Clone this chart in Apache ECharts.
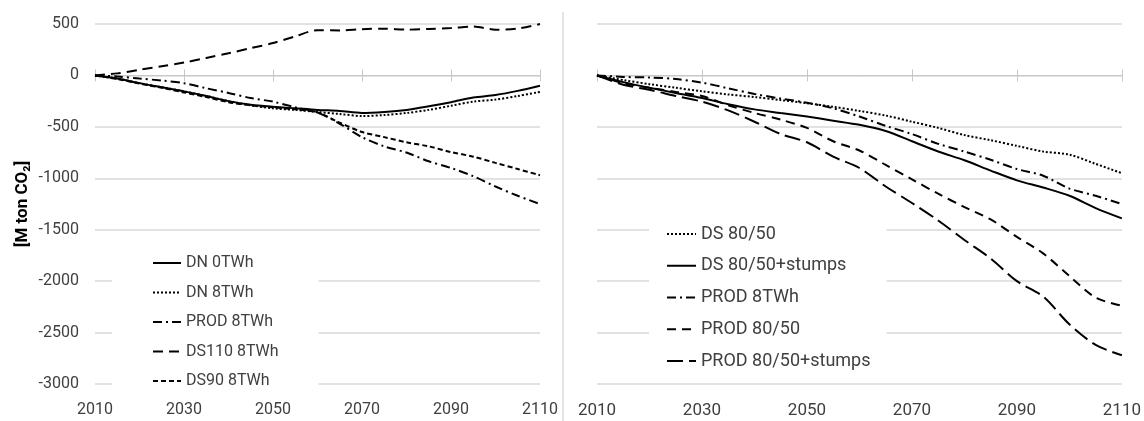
<!DOCTYPE html>
<html>
<head>
<meta charset="utf-8">
<script src="https://cdn.jsdelivr.net/npm/echarts@6/dist/echarts.min.js"></script>
<style>
html,body{margin:0;padding:0;background:#fff;}
#c{width:1144px;height:421px;}
</style>
</head>
<body>
<div id="c"></div>
<script>
// ---- data ----
const years = [2010,2015,2020,2025,2030,2035,2040,2045,2050,2055,2060,2065,2070,2075,2080,2085,2090,2095,2100,2105,2110];
const xTicks = [2010,2030,2050,2070,2090,2110];
const yTicks = [500,0,-500,-1000,-1500,-2000,-2500,-3000];

// left panel
const dn0 = [0,-30,-75,-115,-155,-200,-250,-285,-305,-320,-335,-345,-365,-355,-335,-300,-260,-215,-190,-150,-100];
const dn8 = [0,-30,-75,-115,-155,-200,-250,-290,-320,-335,-355,-375,-395,-385,-365,-335,-295,-255,-235,-200,-160];
const prod8L = [0,-10,-30,-50,-75,-125,-170,-220,-255,-310,-360,-470,-600,-690,-750,-835,-900,-980,-1080,-1170,-1250];
const ds110 = [0,20,55,90,125,170,215,265,315,380,440,438,450,455,445,452,460,475,445,455,500];
const ds90 = [0,-35,-80,-120,-165,-210,-260,-290,-310,-330,-360,-460,-550,-600,-650,-690,-745,-790,-850,-910,-970];

// right panel
const ds8050 = [0,-45,-85,-120,-155,-185,-210,-240,-270,-305,-345,-390,-450,-510,-580,-630,-685,-740,-770,-860,-950];
const ds8050s = [0,-65,-120,-170,-220,-280,-330,-365,-400,-440,-480,-540,-640,-740,-825,-925,-1020,-1090,-1170,-1290,-1390];
const prod8R = [0,-15,-20,-35,-70,-125,-180,-225,-265,-320,-400,-490,-570,-665,-740,-820,-910,-975,-1100,-1170,-1250];
const prod8050 = [0,-75,-120,-160,-200,-290,-365,-430,-510,-640,-730,-870,-1010,-1150,-1280,-1400,-1570,-1730,-1950,-2160,-2240];
const prod8050s = [0,-90,-140,-200,-255,-340,-450,-570,-650,-790,-900,-1080,-1240,-1410,-1600,-1780,-2000,-2150,-2420,-2620,-2720];

const FONT = 'Roboto, "Noto Sans", sans-serif';
const TXT = '#404040';
const GRID = '#d9d9d9';

function pairs(vals){ return years.map((y,i)=>[y, vals[i]]); }
function line(name, vals, xi, yi, type){
  return {
    name, type:'line', xAxisIndex:xi, yAxisIndex:yi, data:pairs(vals),
    symbol:'none', smooth:0.3, animation:false,
    lineStyle:{color:'#000', width:2, type:type, cap:'butt'},
    itemStyle:{color:'#000'}
  };
}
const DOT = 'dotted';
const DASHDOT = [9,4,2,4];
const DASH_L = [10,6];
const DASH_S = [5,3];
const DASH_M = [9,6];
const DASH_XL = [16,6];

function plain(v){ return String(v); }

function labelAxis(grid, fs){
  return {type:'value', gridIndex:grid, min:2010, max:2110, interval:20,
    axisLine:{show:false, onZero:false}, axisTick:{show:false}, splitLine:{show:false},
    axisLabel:{color:TXT, fontFamily:FONT, fontSize:fs, margin:18, formatter:plain}};
}
function zeroAxis(grid, yIdx, inside){
  return {type:'value', gridIndex:grid, min:2010, max:2110, interval:20,
    axisLine:{show:!inside, onZero:true, onZeroAxisIndex:yIdx, lineStyle:{color:'#c8c8c8', width:1}},
    axisTick:{show:true, inside:inside, length:6, lineStyle:{color:'#c8c8c8'}},
    axisLabel:{show:false}, splitLine:{show:false}};
}
function yAx(grid, showLabels){
  return {type:'value', gridIndex:grid, min:-3000, max:500, interval:500,
    axisLine:{show:false}, axisTick:{show:false},
    splitLine:{lineStyle:{color:GRID, width:1.5}},
    axisLabel:{show:showLabels, color:TXT, fontFamily:FONT, fontSize:16, margin:16, formatter:plain}};
}

const legendItemStyle = {color:'rgba(0,0,0,0)', borderColor:'rgba(0,0,0,0)', borderWidth:0, opacity:0};

const option = {
  backgroundColor:'#fff',
  animation:false,
  grid:[
    {left:95, top:24, width:445, height:360},
    {left:597, top:24, width:525, height:360}
  ],
  xAxis:[
    labelAxis(0,16), zeroAxis(0,0,false), zeroAxis(0,0,true),
    labelAxis(1,17), zeroAxis(1,1,false), zeroAxis(1,1,true)
  ],
  yAxis:[
    Object.assign(yAx(0,true), {name:'[M ton CO₂]', nameLocation:'middle', nameGap:64,
      nameTextStyle:{color:'#000', fontFamily:FONT, fontSize:17, fontWeight:'bold'}}),
    yAx(1,false)
  ],
  legend:[
    {orient:'vertical', left:112, top:245, padding:[10,40,4,40], backgroundColor:'#fff',
     itemWidth:28, itemHeight:14, itemGap:13.5, z:10, itemStyle:legendItemStyle,
     textStyle:{color:TXT, fontFamily:FONT, fontSize:16},
     data:['DN 0TWh','DN 8TWh','PROD 8TWh','DS110 8TWh','DS90 8TWh']},
    {orient:'vertical', left:649, top:215, padding:[10,16,10,17], backgroundColor:'#fff',
     itemWidth:29, itemHeight:14, itemGap:13.75, z:10, itemStyle:legendItemStyle,
     textStyle:{color:TXT, fontFamily:FONT, fontSize:18},
     data:['DS 80/50','DS 80/50+stumps','PROD 8TWh ','PROD 80/50','PROD 80/50+stumps']}
  ],
  graphic:[
    {type:'line', shape:{x1:563, y1:12, x2:563, y2:421}, style:{stroke:'#c8c8c8', lineWidth:1}, silent:true}
  ],
  series:[
    line('DN 0TWh', dn0, 0, 0, 'solid'),
    line('DN 8TWh', dn8, 0, 0, DOT),
    line('PROD 8TWh', prod8L, 0, 0, DASHDOT),
    line('DS110 8TWh', ds110, 0, 0, DASH_L),
    line('DS90 8TWh', ds90, 0, 0, DASH_S),
    line('DS 80/50', ds8050, 3, 1, DOT),
    line('DS 80/50+stumps', ds8050s, 3, 1, 'solid'),
    line('PROD 8TWh ', prod8R, 3, 1, DASHDOT),
    line('PROD 80/50', prod8050, 3, 1, DASH_M),
    line('PROD 80/50+stumps', prod8050s, 3, 1, DASH_XL)
  ]
};
const chart = echarts.init(document.getElementById('c'), null, {renderer:'canvas'});
chart.setOption(option);
</script>
</body>
</html>
